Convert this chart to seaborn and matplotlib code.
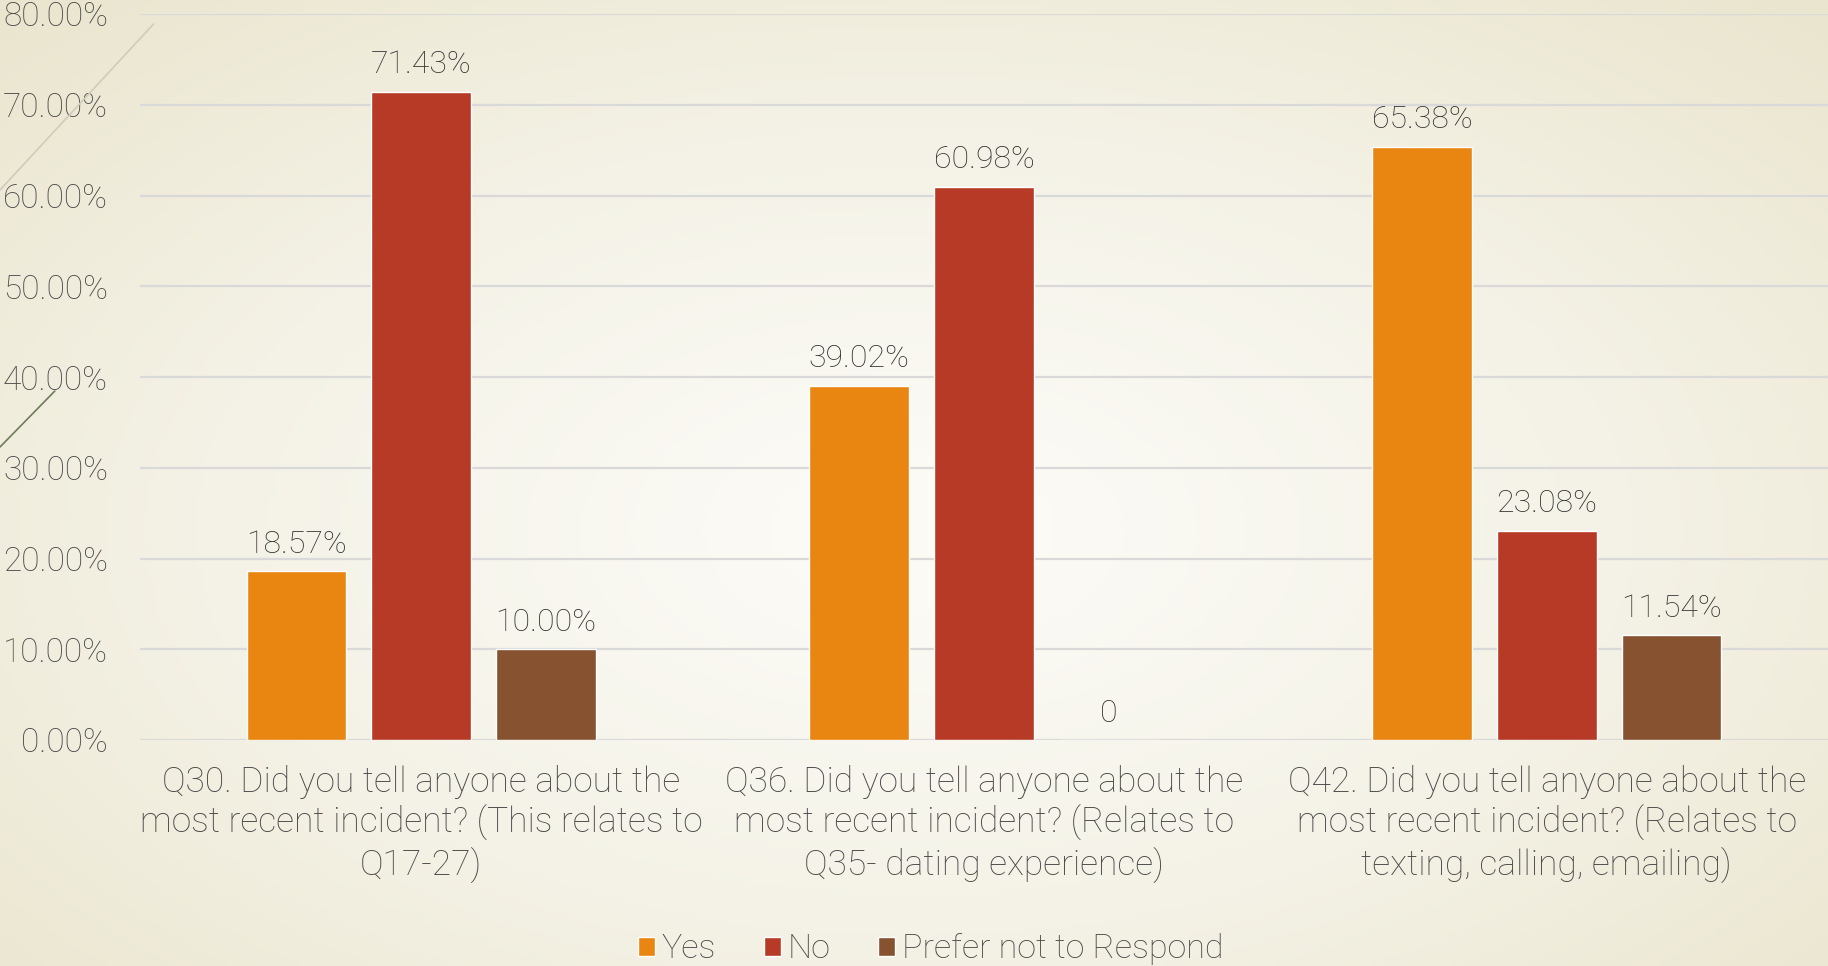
import numpy as np
import pandas as pd
import matplotlib.pyplot as plt
import seaborn as sns
from matplotlib.colors import LinearSegmentedColormap
from matplotlib.patches import Patch
from matplotlib.lines import Line2D

# Chart data
questions = [
    "Q30. Did you tell anyone about the\nmost recent incident? (This relates to\nQ17-27)",
    "Q36. Did you tell anyone about the\nmost recent incident? (Relates to\nQ35- dating experience)",
    "Q42. Did you tell anyone about the\nmost recent incident? (Relates to\ntexting, calling, emailing)",
]
responses = ["Yes", "No", "Prefer not to Respond"]
yes_vals = [0.1857, 0.3902, 0.6538]
no_vals = [0.7143, 0.6098, 0.2308]
prefer_vals = [0.10, 0.0, 0.1154]
yticks = [0.0, 0.1, 0.2, 0.3, 0.4, 0.5, 0.6, 0.7, 0.8]

colors = ["#E88611", "#B63A26", "#865230"]

df = pd.DataFrame({
    "question": questions * 3,
    "response": [r for r in responses for _ in questions],
    "value": yes_vals + no_vals + prefer_vals,
})

sns.set_style("white")
plt.rcParams['font.family'] = ['Roboto', 'DejaVu Sans']

fig = plt.figure(figsize=(18.28, 9.66), dpi=100)

# slide background, light in the middle and darker beige at the edges
bg = fig.add_axes([0, 0, 1, 1], zorder=-2)
yy, xx = np.mgrid[0:1:200j, 0:1:380j]
r = np.sqrt(((xx - 0.5) / 0.75) ** 2 + ((yy - 0.45) / 0.8) ** 2)
cmap = LinearSegmentedColormap.from_list("bg", ["#FBFAF5", "#F4F2E6", "#EAE5CE"])
bg.imshow(r, cmap=cmap, aspect="auto", extent=[0, 1, 0, 1], origin="lower", vmin=0.1, vmax=0.95)
bg.set_axis_off()

# decorative slide lines on the left
fig.add_artist(Line2D([0.084, 0.0], [1 - 24 / 966, 1 - 190 / 966], color="#CFCCBA", lw=1.2))
fig.add_artist(Line2D([0.030, 0.0], [1 - 391 / 966, 1 - 447 / 966], color="#6E7B58", lw=1.2))

ax = fig.add_axes([140 / 1828, 1 - 740 / 966, 1 - 140 / 1828, (740 - 14) / 966])
ax.set_facecolor("none")

sns.barplot(data=df, x="question", y="value", hue="response", hue_order=responses,
            palette=colors, saturation=1, width=0.665, gap=0.2, ax=ax,
            legend=False, zorder=3)

ax.set_ylim(0, 0.8)
ax.set_xlim(-0.5, 2.5)
ax.set_yticks(yticks)
ax.set_yticklabels([f"{t * 100:.2f}%" for t in yticks], fontweight="light")
ax.yaxis.grid(True, color="#D9D9D9", lw=1.6, zorder=0)
ax.set_axisbelow(True)
for s in ax.spines.values():
    s.set_visible(False)
ax.tick_params(axis="y", length=0, pad=23, labelsize=24, labelcolor="#4A4A4A")
ax.tick_params(axis="x", length=0, pad=18, labelsize=25.5, labelcolor="#4A4A4A")
ax.set_xticks(range(len(questions)))
ax.set_xticklabels(questions, fontweight="light", linespacing=1.22)
ax.set_xlabel("")
ax.set_ylabel("")

# value labels above the bars
for cont, vals in zip(ax.containers, [yes_vals, no_vals, prefer_vals]):
    labels = ["0" if v == 0 else f"{v * 100:.2f}%" for v in vals]
    ax.bar_label(cont, labels=labels, padding=9, fontsize=23, color="#333333",
                 fontweight="light")

handles = [Patch(facecolor=c, label=l) for c, l in zip(colors, responses)]
fig.legend(handles=handles, loc="lower center", bbox_to_anchor=(0.509, -0.031), ncol=3,
           frameon=False, handlelength=0.5, handleheight=0.5,
           handletextpad=0.2, columnspacing=1.4, labelcolor="#4A4A4A",
           prop={"weight": "light", "size": 24.5})

fig.savefig("out.png", dpi=100)
